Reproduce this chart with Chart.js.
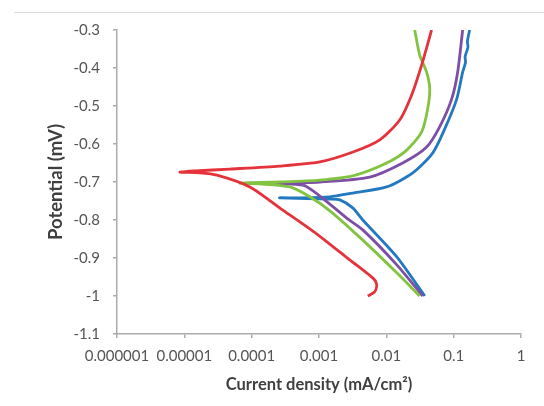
<!DOCTYPE html>
<html>
<head>
<meta charset="utf-8">
<script src="https://cdn.jsdelivr.net/npm/chart.js@4"></script>
<style>
  html, body { margin: 0; padding: 0; background: #fff; }
  #wrap { position: relative; width: 544px; height: 406px; }
  #topline { position: absolute; left: 14px; right: 0; top: 12px; border-top: 1px solid #dcdcdc; z-index: 2; }
</style>
</head>
<body>
<div id="wrap">
  <canvas id="chart" width="544" height="406"></canvas>
  <div id="topline"></div>
</div>
<script>
// tick values and labels
var xTickValues = [0.000001, 0.00001, 0.0001, 0.001, 0.01, 0.1, 1];
var xTickLabels = ['0.000001', '0.00001', '0.0001', '0.001', '0.01', '0.1', '1'];
var yTickValues = [-1.1, -1, -0.9, -0.8, -0.7, -0.6, -0.5, -0.4, -0.3];
var yTickLabels = ['-1.1', '-1', '-0.9', '-0.8', '-0.7', '-0.6', '-0.5', '-0.4', '-0.3'];

// series (current density in mA/cm2, potential in mV)
var redCurrent = [0.047, 0.0335, 0.0238, 0.0158, 0.008, 0.0032, 0.00103, 0.00026, 0.0000475, 0.0000144, 0.0000086, 0.000017, 0.0000305, 0.000094, 0.00029, 0.00093, 0.00286, 0.0065, 0.0072, 0.0067, 0.0053];
var redPotential = [-0.3, -0.392, -0.471, -0.537, -0.589, -0.621, -0.647, -0.658, -0.666, -0.671, -0.674, -0.676, -0.682, -0.713, -0.774, -0.837, -0.905, -0.955, -0.971, -0.989, -1.0];

var greenCurrent = [0.0264, 0.0313, 0.0397, 0.0441, 0.0411, 0.0335, 0.0201, 0.0101, 0.00317, 0.00103, 0.00026, 0.000067, 0.000132, 0.00037, 0.00073, 0.00145, 0.00447, 0.0143, 0.0313];
var greenPotential = [-0.3, -0.366, -0.411, -0.455, -0.508, -0.568, -0.616, -0.65, -0.684, -0.695, -0.7, -0.703, -0.705, -0.713, -0.739, -0.776, -0.853, -0.939, -1.0];

var purpleCurrent = [0.136, 0.1146, 0.0933, 0.0619, 0.0397, 0.0175, 0.00568, 0.00103, 0.00026, 0.000085, 0.000575, 0.00103, 0.00258, 0.00447, 0.0143, 0.0347];
var purplePotential = [-0.3, -0.411, -0.482, -0.555, -0.608, -0.65, -0.687, -0.7, -0.703, -0.703, -0.708, -0.737, -0.795, -0.826, -0.918, -1.0];

var blueCurrent = [0.1726, 0.16, 0.163, 0.148, 0.15, 0.136, 0.111, 0.0734, 0.0487, 0.0247, 0.0101, 0.00317, 0.00145, 0.00052, 0.00026, 0.00145, 0.00204, 0.00317, 0.00447, 0.0143, 0.0372];
var bluePotential = [-0.3, -0.33, -0.345, -0.37, -0.385, -0.411, -0.482, -0.561, -0.624, -0.676, -0.713, -0.729, -0.739, -0.742, -0.742, -0.745, -0.747, -0.768, -0.8, -0.897, -1.0];

function toPoints(xs, ys) {
    return xs.map(function (x, i) { return { x: x, y: ys[i] }; });
}

function makeSet(label, xs, ys, color) {
    return {
        label: label,
        data: toPoints(xs, ys),
        borderColor: color,
        backgroundColor: color,
        borderWidth: 2.8,
        pointRadius: 0,
        showLine: true,
        tension: 0.25,
        fill: false
    };
}

var tickFont = { family: 'Lato', size: 15 };

var ctx = document.getElementById('chart').getContext('2d');
var chart = new Chart(ctx, {
    type: 'scatter',
    data: {
        datasets: [
            makeSet('red', redCurrent, redPotential, '#e5323b'),
            makeSet('green', greenCurrent, greenPotential, '#82c341'),
            makeSet('purple', purpleCurrent, purplePotential, '#7d4ea6'),
            makeSet('blue', blueCurrent, bluePotential, '#2379c0')
        ]
    },
    options: {
        responsive: false,
        animation: false,
        layout: { padding: { top: 30, right: 23, bottom: 0, left: 0 } },
        plugins: {
            legend: { display: false },
            tooltip: { enabled: false }
        },
        scales: {
            x: {
                type: 'logarithmic',
                min: 0.000001,
                max: 1,
                afterBuildTicks: function (scale) {
                    scale.ticks = xTickValues.map(function (v) { return { value: v }; });
                },
                afterFit: function (scale) { scale.height = 72; },
                border: { display: true, color: '#ababab', width: 1.5 },
                grid: { drawOnChartArea: false, color: '#ababab', tickLength: 4, lineWidth: 1.5 },
                ticks: {
                    autoSkip: false,
                    maxRotation: 0,
                    padding: 9,
                    color: '#555555',
                    font: tickFont,
                    callback: function (v, i) { return xTickLabels[i]; }
                },
                title: {
                    display: true,
                    text: 'Current density (mA/cm²)',
                    color: '#3f3f3f',
                    font: { family: 'Lato', size: 16.5, weight: 'bold' },
                    padding: { top: 0, bottom: 11 }
                }
            },
            y: {
                type: 'linear',
                min: -1.1,
                max: -0.3,
                afterBuildTicks: function (scale) {
                    scale.ticks = yTickValues.map(function (v) { return { value: v }; });
                },
                afterFit: function (scale) { scale.width = 117; },
                border: { display: true, color: '#ababab', width: 1.5 },
                grid: { drawOnChartArea: false, color: '#ababab', tickLength: 4, lineWidth: 1.5 },
                ticks: {
                    padding: 13,
                    color: '#555555',
                    font: tickFont,
                    callback: function (v, i) { return yTickLabels[i]; }
                },
                title: {
                    display: true,
                    text: 'Potential (mV)',
                    color: '#3f3f3f',
                    font: { family: 'Lato', size: 18.5, weight: 'bold' },
                    padding: { top: 45, bottom: 0 }
                }
            }
        }
    }
});
</script>
</body>
</html>
